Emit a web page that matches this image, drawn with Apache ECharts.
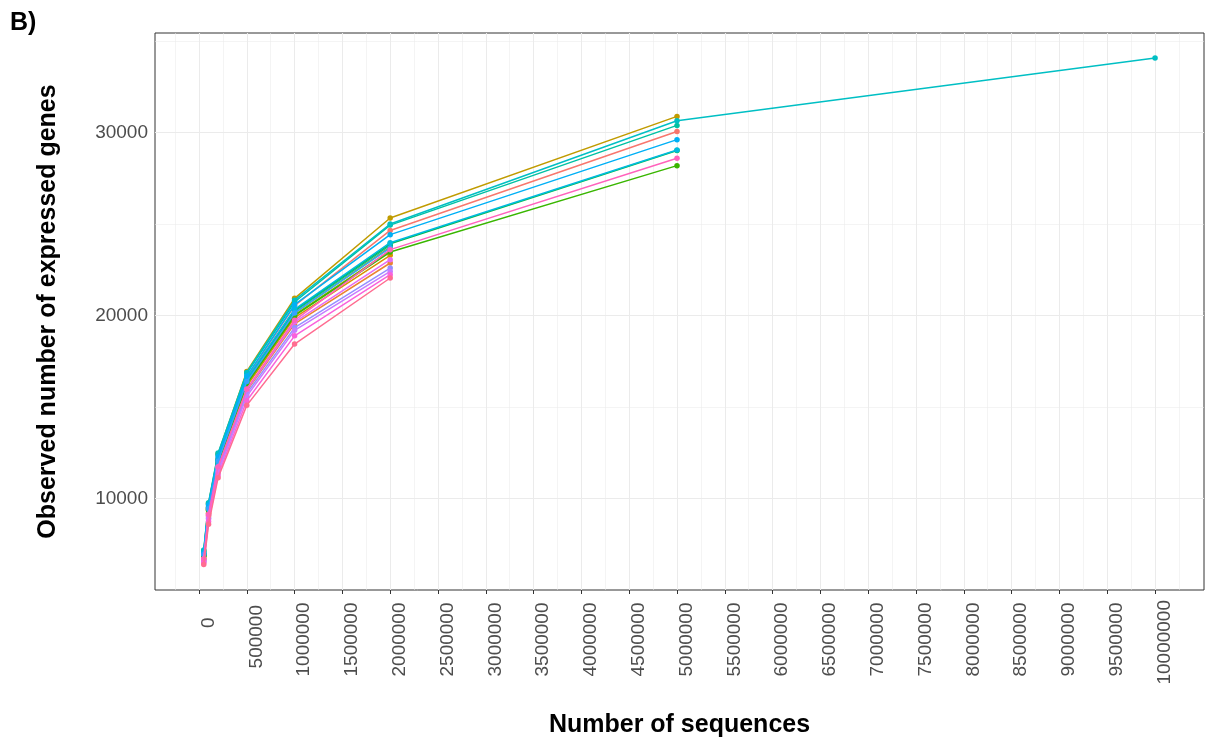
<!DOCTYPE html>
<html>
<head>
<meta charset="utf-8">
<script src="https://cdn.jsdelivr.net/npm/echarts@6/dist/echarts.min.js"></script>
<style>
html,body{margin:0;padding:0;background:#fff;}
#chart{width:1212px;height:744px;}
</style>
</head>
<body>
<div id="chart"></div>
<script>
// Sequencing depths (x values)
const depths = [50000, 100000, 200000, 500000, 1000000, 2000000, 5000000, 10000000];
// Tick labels
const xTicks = [0,500000,1000000,1500000,2000000,2500000,3000000,3500000,4000000,4500000,5000000,5500000,6000000,6500000,7000000,7500000,8000000,8500000,9000000,9500000,10000000];
const xMinor = [-250000,250000,750000,1250000,1750000,2250000,2750000,3250000,3750000,4250000,4750000,5250000,5750000,6250000,6750000,7250000,7750000,8250000,8750000,9250000,9750000,10250000];
const yTicks = [10000, 20000, 30000];
const yMinor = [15000, 25000, 35000];
// Observed genes per sample
const s01 = [6950, 9500, 12200, 16650, 20550, 24660, 30070];
const s02 = [6650, 9050, 11650, 15900, 19550, 22880];
const s03 = [6750, 9200, 11850, 16150, 19900, 23300];
const s04 = [7150, 9750, 12450, 16950, 20950, 25340, 30890];
const s05 = [6900, 9400, 12000, 16350, 20150, 23750];
const s06 = [6850, 9350, 11950, 16250, 20050, 23550];
const s07 = [6900, 9400, 12000, 16300, 20000, 23480, 28200];
const s08 = [6950, 9500, 12100, 16500, 20300, 23930, 29030];
const s09 = [6950, 9450, 12100, 16450, 20250, 23850];
const s10 = [7100, 9700, 12400, 16850, 20750, 24950, 30400];
const s11 = [7200, 9780, 12500, 16900, 20850, 25010, 30655, 34080];
const s12 = [7000, 9550, 12150, 16550, 20350, 23990, 29050];
const s13 = [7050, 9650, 12300, 16700, 20600, 24430, 29620];
const s14 = [6950, 9450, 12050, 16400, 20150, 23700];
const s15 = [6600, 8950, 11550, 15750, 19350, 22600];
const s16 = [6550, 8900, 11450, 15600, 19200, 22420];
const s17 = [6700, 9100, 11700, 15950, 19650, 23060];
const s18 = [6500, 8750, 11300, 15350, 18900, 22240];
const s19 = [6700, 9150, 11750, 16000, 19750, 23610, 28600];
const s20 = [6400, 8600, 11150, 15100, 18450, 22060];
const samples = [s01,s02,s03,s04,s05,s06,s07,s08,s09,s10,s11,s12,s13,s14,s15,s16,s17,s18,s19,s20];
const colors = ['#F8766D','#EA8331','#D89000','#C09B00','#A3A500','#7CAE00','#39B600','#00BB4E','#00BF7D','#00C1A3','#00BFC4','#00BAE0','#00B0F6','#35A2FF','#9590FF','#C77CFF','#E76BF3','#FA62DB','#FF62BC','#FF6C91'];

const FONT = '"Liberation Sans", Arial, Helvetica, sans-serif';
const chart = echarts.init(document.getElementById('chart'), null, {renderer: 'canvas'});

const gridMarks = [];
xMinor.forEach(v => gridMarks.push({xAxis: v, lineStyle: {color: '#EBEBEB', width: 0.55, type: 'solid'}}));
yMinor.forEach(v => gridMarks.push({yAxis: v, lineStyle: {color: '#EBEBEB', width: 0.55, type: 'solid'}}));
xTicks.forEach(v => gridMarks.push({xAxis: v, lineStyle: {color: '#EBEBEB', width: 1.07, type: 'solid'}}));
yTicks.forEach(v => gridMarks.push({yAxis: v, lineStyle: {color: '#EBEBEB', width: 1.07, type: 'solid'}}));

const series = [{
  type: 'line', data: [], z: 1, silent: true,
  markLine: {z: 1, silent: true, symbol: 'none', label: {show: false}, animation: false, data: gridMarks}
}];
samples.forEach((vals, i) => {
  series.push({
    type: 'line',
    name: 'S' + (i + 1),
    data: vals.map((v, j) => [depths[j], v]),
    symbol: 'circle', symbolSize: 5.5, showSymbol: true,
    lineStyle: {color: colors[i], width: 1.5},
    itemStyle: {color: colors[i], borderWidth: 0, borderColor: colors[i]},
    emphasis: {disabled: true},
    z: 3 + i * 0.01,
    animation: false
  });
});

// rotated labels are anchored about three quarters along their length (as in the reference)
const richX = {};
for (let n = 1; n <= 8; n++) {
  richX['d' + n] = {fontFamily: FONT, fontSize: 19, color: '#4D4D4D', padding: [0, 2.5 * (8 - n), 0, 0]};
}

chart.setOption({
  backgroundColor: '#fff',
  animation: false,
  title: {
    text: 'B)', left: 10, top: 11, padding: 0,
    textStyle: {fontFamily: FONT, fontSize: 25, fontWeight: 'bold', color: '#000'}
  },
  grid: {left: 155, right: 8, top: 33, bottom: 154, show: true, borderColor: '#333333', borderWidth: 1, backgroundColor: '#fff', containLabel: false},
  xAxis: {
    type: 'value', min: -460000, max: 10512000,
    name: 'Number of sequences', nameLocation: 'middle', nameGap: 123,
    nameTextStyle: {fontFamily: FONT, fontSize: 25, fontWeight: 'bold', color: '#000'},
    axisLine: {show: false},
    splitLine: {show: false},
    axisTick: {show: true, length: 4, lineStyle: {color: '#333333', width: 1}, customValues: xTicks},
    axisLabel: {
      customValues: xTicks, rotate: 90, margin: 10,
      fontFamily: FONT, fontSize: 19, color: '#4D4D4D', verticalAlign: 'top', lineHeight: 19,
      rich: richX,
      formatter: v => { const s = String(v); return '{d' + s.length + '|' + s + '}'; }
    }
  },
  yAxis: {
    type: 'value', min: 5011, max: 35448,
    name: 'Observed number of expressed genes', nameLocation: 'middle', nameGap: 94,
    nameTextStyle: {fontFamily: FONT, fontSize: 25, fontWeight: 'bold', color: '#000'},
    axisLine: {show: false},
    splitLine: {show: false},
    axisTick: {show: true, length: 4, lineStyle: {color: '#333333', width: 1}, customValues: yTicks},
    axisLabel: {
      customValues: yTicks, margin: 7,
      fontFamily: FONT, fontSize: 19, color: '#4D4D4D',
      formatter: v => String(v)
    }
  },
  series: series
});
</script>
</body>
</html>
